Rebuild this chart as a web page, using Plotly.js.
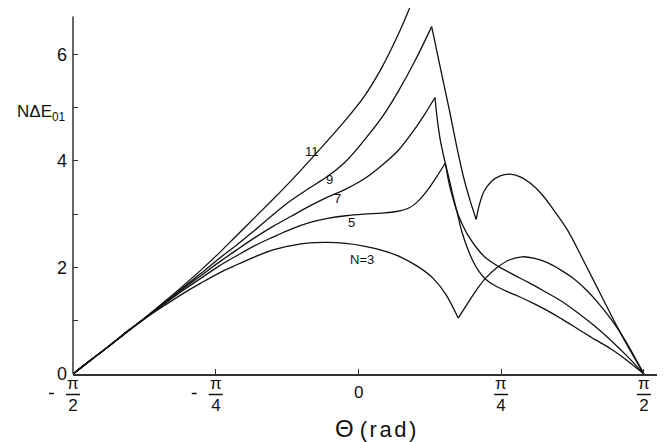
<!DOCTYPE html>
<html>
<head>
<meta charset="utf-8">
<script src="https://cdn.plot.ly/plotly-3.0.1.min.js"></script>
<style>
html,body{margin:0;padding:0;background:#fff;}
#chart{width:664px;height:442px;}
</style>
</head>
<body>
<div id="chart"></div>
<script>
// ---- data ----
const theta3 = [-1.5708,-1.47,-1.37,-1.27,-1.17,-1.07,-0.97,-0.87,-0.77,-0.67,-0.57,-0.47,-0.37,-0.27,-0.17,-0.07,0.03,0.13,0.23,0.33,0.41,0.48,0.549,
                0.60,0.65,0.70,0.76,0.83,0.90,0.97,1.04,1.11,1.18,1.25,1.32,1.39,1.45,1.51,1.5708];
const e3     = [0,0.27,0.53,0.80,1.05,1.28,1.50,1.70,1.89,2.05,2.20,2.33,2.41,2.46,2.47,2.45,2.40,2.32,2.20,2.01,1.80,1.50,1.05,
                1.32,1.58,1.80,1.99,2.14,2.20,2.17,2.09,1.96,1.80,1.59,1.33,1.03,0.73,0.38,0];
const cusps3 = [22];

const theta5 = [-1.5708,-1.47,-1.37,-1.27,-1.17,-1.07,-0.97,-0.87,-0.77,-0.67,-0.57,-0.47,-0.37,-0.27,-0.17,-0.07,0.03,0.13,0.21,0.28,0.33,0.38,0.43,0.478,
                0.50,0.52,0.542,0.57,0.60,0.65,0.70,0.77,0.85,0.94,1.03,1.12,1.21,1.30,1.39,1.48,1.5708];
const e5     = [0,0.27,0.53,0.80,1.06,1.31,1.56,1.79,2.02,2.22,2.41,2.57,2.72,2.84,2.92,2.97,3.00,3.02,3.05,3.12,3.25,3.45,3.70,3.96,
                3.56,3.30,3.05,2.82,2.62,2.37,2.18,2.02,1.87,1.71,1.54,1.36,1.14,0.90,0.63,0.33,0];
const cusps5 = [23];

const theta7 = [-1.5708,-1.47,-1.37,-1.27,-1.17,-1.07,-0.97,-0.87,-0.77,-0.67,-0.57,-0.47,-0.37,-0.27,-0.17,-0.07,0.03,0.13,0.22,0.30,0.36,0.421,
                0.435,0.45,0.475,0.50,0.52,0.542,0.57,0.60,0.63,0.66,0.70,0.75,0.81,0.88,0.96,1.04,1.12,1.21,1.30,1.39,1.48,1.5708];
const e7     = [0,0.27,0.53,0.80,1.06,1.32,1.59,1.84,2.09,2.33,2.56,2.77,2.96,3.15,3.32,3.47,3.66,3.92,4.20,4.55,4.85,5.19,
                4.75,4.40,4.00,3.65,3.35,3.05,2.66,2.36,2.12,1.94,1.78,1.66,1.56,1.46,1.33,1.19,1.03,0.84,0.65,0.47,0.25,0];
const cusps7 = [21];

const theta9 = [-1.5708,-1.47,-1.37,-1.27,-1.17,-1.07,-0.97,-0.87,-0.77,-0.67,-0.57,-0.47,-0.37,-0.27,-0.17,-0.07,0.03,0.13,0.22,0.31,0.403,
                0.45,0.50,0.542,0.581,0.615,0.648,
                0.665,0.69,0.73,0.78,0.834,0.89,0.95,1.01,1.07,1.149,1.25,1.35,1.45,1.5708];
const e9     = [0,0.27,0.53,0.80,1.06,1.33,1.61,1.88,2.16,2.42,2.70,2.99,3.26,3.49,3.71,3.99,4.38,4.82,5.31,5.87,6.52,
                5.76,4.96,4.25,3.66,3.25,2.90,
                3.17,3.42,3.61,3.72,3.75,3.70,3.57,3.37,3.10,2.71,2.05,1.38,0.72,0];
const cusps9 = [20,26];

const theta11 = [-1.5708,-1.47,-1.37,-1.27,-1.17,-1.07,-0.97,-0.87,-0.77,-0.67,-0.57,-0.47,-0.37,-0.27,-0.17,-0.07,0.03,0.13,0.22,0.282];
const e11     = [0,0.27,0.53,0.81,1.07,1.35,1.64,1.94,2.26,2.60,2.94,3.28,3.63,4.00,4.38,4.77,5.20,5.76,6.38,6.87];
const cusps11 = [];

const curveLabels = ['N=3','5','7','9','11'];
const labelTheta  = [0.017,-0.039,-0.115,-0.160,-0.256];
const labelE      = [2.14,2.84,3.29,3.65,4.18];

const xTickVals = [-Math.PI/2,-Math.PI/4,0,Math.PI/4,Math.PI/2];
const xTickSign = ['-','-','','',''];
const xTickNum  = ['π','π','0','π','π'];
const xTickDen  = ['2','4','','4','2'];

const yTickVals  = [0,2,4,6];
const yTickText  = ['0','2','4','6'];
const yMinorVals = [1,3,5];

const yTitle = 'NΔE<sub>01</sub>';
const xTitleSymbol = 'Θ';
const xTitleUnit = '(rad)';

// ---- drawing ----
const W = 664, H = 442;
const M = {l:73, r:7, t:0, b:68};
const PW = W - M.l - M.r, PH = H - M.t - M.b;
const X_MIN = -Math.PI/2, X_MAX = 1.643;
const Y_MIN = 0, Y_MAX = 7.02, Y_AXIS_TOP = 6.71;
const FONT = 'Liberation Sans, Arial, sans-serif';
const INK = '#111';

const series = [
  [theta3,e3,cusps3],[theta5,e5,cusps5],[theta7,e7,cusps7],[theta9,e9,cusps9],[theta11,e11,cusps11]
];
const traces = [];
series.forEach(([t,e,c]) => {
  const breaks = [0].concat(c).concat([t.length-1]);
  for (let k=0;k<breaks.length-1;k++){
    const a=breaks[k], b=breaks[k+1];
    traces.push({
      x: t.slice(a,b+1), y: e.slice(a,b+1),
      type:'scatter', mode:'lines',
      line:{color:INK, width:1.3, shape:'spline', smoothing:1},
      hoverinfo:'skip', showlegend:false
    });
  }
});

const annotations = [];
const shapes = [];
const toPaperX = v => (v - X_MIN)/(X_MAX - X_MIN);
const pxX = p => p / PW;   // pixel offset -> paper fraction
const pxY = p => p / PH;

xTickVals.forEach((v,i) => {
  const px = toPaperX(v);
  if (xTickDen[i]) {
    annotations.push({x:px, xref:'paper', xanchor:'center', y:0, yref:'paper', yanchor:'middle', yshift:-20,
                      text:xTickNum[i] + '<br>' + xTickDen[i], showarrow:false, font:{family:FONT, size:17, color:INK}});
    shapes.push({type:'line', xref:'paper', yref:'paper',
                 x0:px - pxX(7), x1:px + pxX(7), y0:-pxY(20.5), y1:-pxY(20.5), line:{color:INK, width:1.5}});
    if (xTickSign[i]) {
      shapes.push({type:'line', xref:'paper', yref:'paper',
                   x0:px - pxX(24), x1:px - pxX(19), y0:-pxY(19.5), y1:-pxY(19.5), line:{color:INK, width:1.5}});
    }
  } else {
    annotations.push({x:px, xref:'paper', xanchor:'center', y:0, yref:'paper', yanchor:'middle', yshift:-18,
                      text:xTickNum[i], showarrow:false, font:{family:FONT, size:17, color:INK}});
  }
});

curveLabels.forEach((s,i) => {
  annotations.push({x:labelTheta[i], y:labelE[i], xref:'x', yref:'y', text:s, showarrow:false, font:{family:FONT, size:13, color:INK}});
});

annotations.push({x:0, xref:'paper', xanchor:'right', xshift:-5, y:5, yref:'y', yanchor:'middle', yshift:-5,
                  text:yTitle, showarrow:false, font:{family:FONT, size:17, color:INK}});
annotations.push({x:pxX(377 - M.l), xref:'paper', xanchor:'center', y:0, yref:'paper', yanchor:'middle', yshift:-54,
                  text:'<span style="font-size:24px">' + xTitleSymbol + '</span> <span style="letter-spacing:2.5px">' + xTitleUnit + '</span>',
                  showarrow:false, font:{family:FONT, size:22, color:INK}});

shapes.push({type:'line', xref:'paper', x0:0, x1:0, yref:'paper', y0:0, y1:(Y_AXIS_TOP-Y_MIN)/(Y_MAX-Y_MIN), line:{color:'#333', width:1.5}});

const layout = {
  width:W, height:H,
  margin:M,
  paper_bgcolor:'#fff', plot_bgcolor:'#fff',
  showlegend:false,
  xaxis:{range:[X_MIN,X_MAX], showgrid:false, zeroline:false, showline:true, linecolor:'#333', linewidth:1.5,
         ticks:'inside', ticklen:5, tickwidth:1.2, tickcolor:'#333', tickvals:xTickVals, showticklabels:false},
  yaxis:{range:[Y_MIN,Y_MAX], showgrid:false, zeroline:false, showline:false,
         ticks:'inside', ticklen:5, tickwidth:1.2, tickcolor:'#333', tickmode:'array', tickvals:yTickVals, ticktext:yTickText,
         minor:{tickmode:'array', tickvals:yMinorVals, ticks:'inside', ticklen:5, tickwidth:1.2, tickcolor:'#333', showgrid:false},
         ticklabelstandoff:5, tickfont:{family:FONT, size:18, color:INK}},
  annotations:annotations,
  shapes:shapes
};

Plotly.newPlot('chart', traces, layout, {staticPlot:true, displayModeBar:false});
</script>
</body>
</html>
